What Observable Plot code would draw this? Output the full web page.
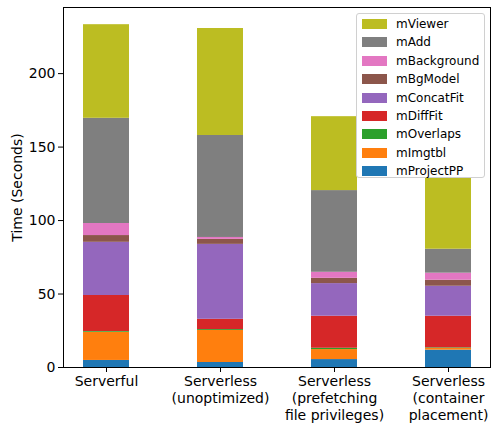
<!DOCTYPE html>
<html>
<head>
<meta charset="utf-8">
<script src="https://cdn.jsdelivr.net/npm/d3@7"></script>
<script src="https://cdn.jsdelivr.net/npm/@observablehq/plot@0.6"></script>
<style>
  body { margin: 0; background: white; font-family: "DejaVu Sans", sans-serif; }
  #wrap { position: relative; width: 492px; height: 426px; }
  #legend { position: absolute; left: 356px; top: 13px; width: 129px; height: 165px;
    background: white; border: 1px solid #d0d0d0; border-radius: 3px; box-sizing: border-box; }
  .row { position: absolute; left: 0; height: 18px; display: flex; align-items: center; }
  .sw { width: 25px; height: 10px; margin-left: 5px; }
  .lab { margin-left: 9px; font-size: 12px; color: #000; white-space: nowrap; }
</style>
</head>
<body>
<div id="wrap"></div>
<script>
const categories = ["Serverful", "Serverless (unoptimized)", "Serverless (prefetching file privileges)", "Serverless (container placement)"];
const categoryLabels = ["Serverful", "Serverless\n(unoptimized)", "Serverless\n(prefetching\nfile privileges)", "Serverless\n(container\nplacement)"];
const tasks = ["mProjectPP", "mImgtbl", "mOverlaps", "mDiffFit", "mConcatFit", "mBgModel", "mBackground", "mAdd", "mViewer"];
const colors = ["#1f77b4", "#ff7f0e", "#2ca02c", "#d62728", "#9467bd", "#8c564b", "#e377c2", "#7f7f7f", "#bcbd22"];
const mProjectPP  = [4.8, 3.4, 5.4, 11.8];
const mImgtbl     = [19.2, 21.8, 6.8, 1.2];
const mOverlaps   = [0.5, 0.6, 0.9, 0.4];
const mDiffFit    = [24.5, 7.0, 21.8, 21.5];
const mConcatFit  = [36.2, 51.0, 22.2, 20.4];
const mBgModel    = [4.6, 3.4, 3.6, 4.1];
const mBackground = [8.2, 1.3, 4.1, 4.8];
const mAdd        = [71.6, 69.4, 55.6, 16.3];
const mViewer     = [63.7, 72.8, 50.3, 70.0];
const yTicks = [0, 50, 100, 150, 200];

const series = {mProjectPP, mImgtbl, mOverlaps, mDiffFit, mConcatFit, mBgModel, mBackground, mAdd, mViewer};
const data = [];
tasks.forEach(t => categories.forEach((c, i) => data.push({category: c, task: t, value: series[t][i]})));

const chart = Plot.plot({
  width: 492,
  height: 426,
  marginTop: 7,
  marginBottom: 59,
  marginLeft: 63,
  marginRight: 2,
  style: {fontFamily: "DejaVu Sans, sans-serif", fontSize: "14px", color: "black", background: "white"},
  x: {domain: categories, paddingInner: 0.6, paddingOuter: 0.17, label: null},
  y: {domain: [0, 245], label: null},
  color: {domain: tasks, range: colors},
  marks: [
    Plot.barY(data, {x: "category", y: "value", fill: "task", z: "task", order: tasks}),
    Plot.frame({stroke: "black", strokeWidth: 1}),
    Plot.axisY({ticks: yTicks, tickSize: 5, tickPadding: 3, fontSize: 14, label: null, stroke: "black"}),
    Plot.axisX({tickSize: 5, tickPadding: 2, fontSize: 14, label: null, stroke: "black",
      tickFormat: d => categoryLabels[categories.indexOf(d)], lineHeight: 1.2}),
    Plot.text(["Time (Seconds)"], {frameAnchor: "left", rotate: -90, dx: -46, fontSize: 14, textAnchor: "middle", lineAnchor: "middle", fill: "black"})
  ]
});
const wrap = document.getElementById("wrap");
wrap.appendChild(chart);

const legend = document.createElement("div");
legend.id = "legend";
tasks.slice().reverse().forEach((t, i) => {
  const row = document.createElement("div");
  row.className = "row";
  row.style.top = (1 + i * 18.4) + "px";
  const sw = document.createElement("div");
  sw.className = "sw";
  sw.style.background = colors[tasks.indexOf(t)];
  const lab = document.createElement("span");
  lab.className = "lab";
  lab.textContent = t;
  row.appendChild(sw); row.appendChild(lab);
  legend.appendChild(row);
});
wrap.appendChild(legend);
</script>
</body>
</html>
